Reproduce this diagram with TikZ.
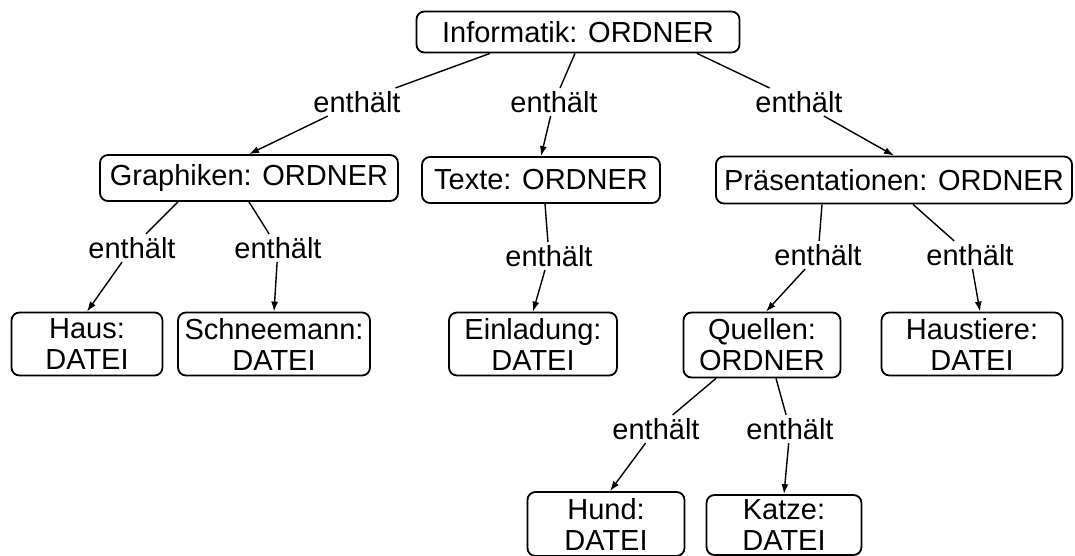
\documentclass[tikz,border=0pt]{standalone}
\usepackage{fontspec}
\setmainfont{Liberation Sans}
\usetikzlibrary{arrows.meta}

\begin{document}
\begin{tikzpicture}[x=0.5pt,y=-0.5pt,>={Latex[length=5pt,width=3.5pt]},
  font=\fontsize{14.5pt}{15.5pt}\selectfont,
  box/.style={draw,line width=0.9pt,rounded corners=4pt,align=center,inner sep=1pt},
  rel/.style={inner sep=1.5pt},
  con/.style={line width=0.7pt}]
\useasboundingbox (0,0) rectangle (1075,556);
% ordner und dateien
\node[box,minimum width=161.5pt,minimum height=20.5pt] (inf) at (578,32) {Informatik: ORDNER};
\node[box,minimum width=149pt,minimum height=23pt] (graph) at (249,178) {Graphiken: ORDNER};
\node[box,minimum width=119pt,minimum height=23pt] (texte) at (541,180) {Texte: ORDNER};
\node[box,minimum width=178pt,minimum height=23.5pt] (praes) at (894,180) {Präsentationen: ORDNER};
\node[box,minimum width=75.5pt,minimum height=31.5pt] (haus) at (87,344) {Haus:\\DATEI};
\node[box,minimum width=96pt,minimum height=31.5pt] (schnee) at (274,344) {Schneemann:\\DATEI};
\node[box,minimum width=84pt,minimum height=31.5pt] (einl) at (533,344) {Einladung:\\DATEI};
\node[box,minimum width=78.5pt,minimum height=32.5pt] (quell) at (762,345) {Quellen:\\ORDNER};
\node[box,minimum width=90.5pt,minimum height=31.5pt] (tiere) at (972,344) {Haustiere:\\DATEI};
\node[box,minimum width=78.5pt,minimum height=32pt] (hund) at (606,524) {Hund:\\DATEI};
\node[box,minimum width=77.5pt,minimum height=30pt] (katze) at (784,525) {Katze:\\DATEI};
% beziehungen
\node[rel] (r1) at (357,102) {enthält};
\node[rel] (r2) at (554,102) {enthält};
\node[rel] (r3) at (799,102) {enthält};
\node[rel] (r4) at (132,248) {enthält};
\node[rel] (r5) at (278,248) {enthält};
\node[rel] (r6) at (549,256) {enthält};
\node[rel] (r7) at (818,255) {enthält};
\node[rel] (r8) at (970,255) {enthält};
\node[rel] (r9) at (656,429) {enthält};
\node[rel] (r10) at (790,429) {enthält};
\draw[con] ([xshift=-44pt]inf.south) -- (r1);
\draw[con,->] (r1) -- (graph.north);
\draw[con] ([xshift=-1.5pt]inf.south) -- (r2);
\draw[con,->] (r2) -- (texte.north);
\draw[con] ([xshift=59.5pt]inf.south) -- (r3);
\draw[con,->] (r3) -- (praes.north);
\draw[con] ([xshift=-35.5pt]graph.south) -- (r4);
\draw[con,->] (r4) -- (haus.north);
\draw[con] (graph.south) -- (r5);
\draw[con,->] (r5) -- (schnee.north);
\draw[con] ([xshift=2pt]texte.south) -- (r6);
\draw[con,->] (r6) -- (einl.north);
\draw[con] ([xshift=-36pt]praes.south) -- (r7);
\draw[con,->] (r7) -- ([xshift=2pt]quell.north);
\draw[con] ([xshift=9.5pt]praes.south) -- (r8);
\draw[con,->] (r8) -- ([xshift=4pt]tiere.north);
\draw[con] ([xshift=-23pt]quell.south) -- (r9);
\draw[con,->] (r9) -- ([xshift=2pt]hund.north);
\draw[con] ([xshift=7pt]quell.south) -- (r10);
\draw[con,->] (r10) -- (katze.north);
\end{tikzpicture}
\end{document}
